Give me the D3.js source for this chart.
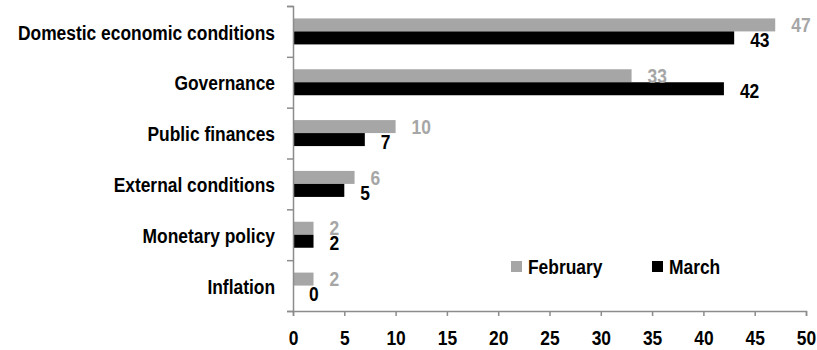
<!DOCTYPE html>
<meta charset="utf-8">
<script src="https://d3js.org/d3.v7.min.js"></script>
<style>
  body { margin: 0; background: #fff; }
  text { font-family: "Liberation Sans Narrow", "Arial Narrow", "Liberation Sans", Arial, sans-serif; font-weight: bold; }
</style>
<div id="chart"></div>
<script>

  // data
  var categories = ["Domestic economic conditions", "Governance", "Public finances",
                    "External conditions", "Monetary policy", "Inflation"];
  var series = ["February", "March"];
  var february = [47, 33, 10, 6, 2, 2];
  var march = [43, 42, 7, 5, 2, 0];
  var xTicks = [0, 5, 10, 15, 20, 25, 30, 35, 40, 45, 50];

  var colors = {February: "#a6a6a6", March: "#000000"};

  // no narrow font installed, so squeeze the regular one
  var squeeze = 0.87;
  function place(x, y) { return "translate(" + x + "," + y + ") scale(" + squeeze + ",1)"; }

  // set the dimensions and margins of the graph
  var margin = {top: 6, right: 11, bottom: 39, left: 293},
      width = 817 - margin.left - margin.right,
      height = 350 - margin.top - margin.bottom;

  var svg = d3.select("#chart")
    .append("svg")
      .attr("width", width + margin.left + margin.right)
      .attr("height", height + margin.top + margin.bottom)
    .append("g")
      .attr("transform", "translate(" + margin.left + "," + margin.top + ")");

  var rows = categories.map(function (c, i) {
    return {cat: c, values: [{s: "February", v: february[i]}, {s: "March", v: march[i]}]};
  });

  // scales
  var x = d3.scaleLinear().domain([0, 50]).range([0, width]);
  var y = d3.scaleBand().domain(categories).range([0, height]);
  var barH = 13;
  var y1 = d3.scaleBand().domain(series)
    .range([y.bandwidth() / 2 - barH, y.bandwidth() / 2 + barH]);

  // bars
  var groups = svg.selectAll(".grp")
    .data(rows)
    .enter()
    .append("g")
      .attr("transform", function (d) { return "translate(0," + y(d.cat) + ")"; });

  groups.selectAll("rect")
    .data(function (d) { return d.values; })
    .enter()
    .append("rect")
      .attr("x", 0)
      .attr("y", function (d) { return y1(d.s); })
      .attr("width", function (d) { return x(d.v); })
      .attr("height", y1.bandwidth())
      .style("fill", function (d) { return colors[d.s]; });

  // value labels
  groups.selectAll(".val")
    .data(function (d) { return d.values; })
    .enter()
    .append("text")
      .attr("transform", function (d) {
        return place(x(d.v) + 16, y1(d.s) + y1.bandwidth() / 2 + (d.s == "March" ? 2 : 0));
      })
      .attr("dy", "0.36em")
      .style("font-size", "20px")
      .style("fill", function (d) { return colors[d.s]; })
      .text(function (d) { return d.v; });

  // category labels
  svg.selectAll(".cat")
    .data(categories)
    .enter()
    .append("text")
      .attr("transform", function (d) { return place(-18, y(d) + y.bandwidth() / 2 + 1); })
      .attr("dy", "0.36em")
      .attr("text-anchor", "end")
      .style("font-size", "20px")
      .text(function (d) { return d; });

  // Y axis: ticks between categories
  var yIdx = d3.scaleLinear().domain([0, categories.length]).range([0, height]);
  svg.append("g")
    .call(d3.axisLeft(yIdx).ticks(categories.length).tickSize(6).tickFormat(""));

  // X axis
  var xAxis = svg.append("g")
    .attr("transform", "translate(0," + height + ")")
    .call(d3.axisBottom(x).tickValues(xTicks).tickSize(5).tickPadding(15));
  xAxis.selectAll("text")
    .style("font-size", "20px")
    .style("fill", "#000")
    .attr("transform", "scale(" + squeeze + ",1)");

  svg.selectAll(".domain, .tick line")
    .style("stroke", "#8c8c8c")
    .style("stroke-width", "1.5px");

  // legend
  var legend = svg.selectAll(".leg")
    .data(series)
    .enter()
    .append("g")
      .attr("transform", function (d, i) { return "translate(" + (218 + i * 141) + "," + 255 + ")"; });
  legend.append("rect")
    .attr("width", 11).attr("height", 11)
    .style("fill", function (d) { return colors[d]; });
  legend.append("text")
    .attr("transform", place(17, 6))
    .attr("dy", "0.36em")
    .style("font-size", "20px")
    .text(function (d) { return d; });

</script>
